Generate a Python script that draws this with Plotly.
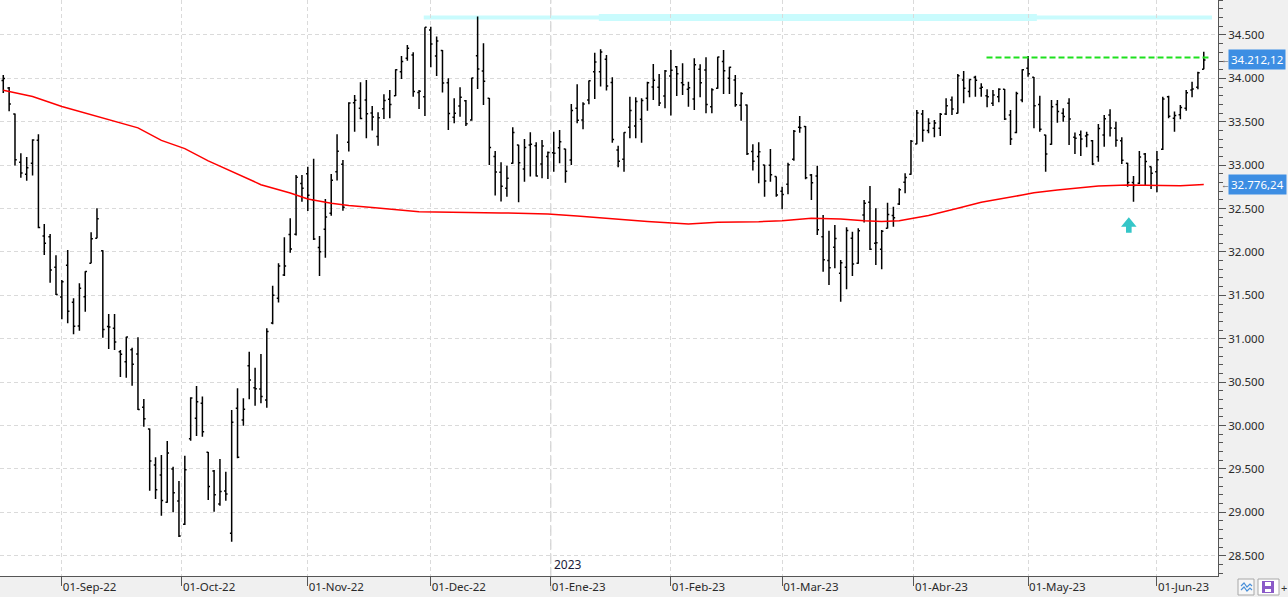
import pandas as pd
import plotly.graph_objects as go

# ---------------- data ----------------
start_date = "2022-08-18"
end_date = "2023-06-13"
holidays = ["2022-09-05", "2022-11-24", "2022-12-26", "2023-01-02",
            "2023-01-16", "2023-02-20", "2023-04-07", "2023-05-29"]

opens = [33975, 33890, 33590, 33033, 32895, 33022, 33287, 32184, 32176, 31823,
         31480, 31846, 31420, 31147, 31485, 31869, 32157, 32015, 31140, 31120,
         30850, 30736, 30874, 30824, 30210, 29960, 29545, 29430, 29115, 29500,
         29130, 28862, 29848, 30083, 30257, 29691, 29476, 29096, 29246, 28758,
         30198, 30064, 30690, 30436, 30421, 30294, 31180, 31466, 31734, 32200,
         32204, 32790, 32900, 32600, 32050, 32261, 32445, 32925, 33010, 33263,
         33720, 33655, 33751, 33600, 33329, 33650, 33759, 33801, 34077, 34231,
         34269, 33836, 33789, 34558, 34258, 34320, 33950, 33551, 33682, 33743,
         33521, 34262, 34085, 33770, 33100, 32918, 32733, 33021, 33232, 32956,
         33232, 33225, 33013, 33100, 33144, 33200, 33186, 33060, 33655, 33521,
         33751, 34077, 34077, 34220, 33951, 33175, 33067, 33436, 33450, 33528,
         33770, 33900, 33897, 33797, 34028, 34135, 33950, 33874, 33763, 34104,
         34097, 33674, 33885, 34193, 34001, 33981, 33690, 33693, 33156, 33100,
         33002, 33000, 32868, 32700, 32779, 33067, 33436, 33444, 32887, 32875,
         32176, 31900, 32053, 31754, 31823, 32157, 31869, 32426, 32572, 32100,
         32030, 32272, 32420, 32553, 32802, 32894, 33244, 33590, 33400, 33425,
         33425, 33590, 33750, 33597, 33981, 33850, 34012, 33885, 33800, 33713,
         33789, 33874, 33578, 33375, 33751, 34116, 34012, 33700, 33348, 33240,
         33700, 33597, 33713, 33321, 33350, 33336, 33282, 33098, 33348, 33578,
         33425, 33280, 33021, 32800, 32791, 33129, 32983, 32925, 33183, 33789,
         33540, 33580, 33655, 33866, 33897, 34104]

highs = [34040, 33900, 33595, 33137, 33094, 33299, 33357, 32322, 32207, 31961,
         31676, 32023, 31466, 31639, 31777, 32226, 32502, 32020, 31285, 31285,
         30870, 31024, 30897, 31016, 30306, 29965, 29634, 29660, 29822, 29526,
         29361, 29652, 30325, 30455, 30333, 29695, 29487, 29614, 29468, 30179,
         30429, 30314, 30851, 30667, 30824, 31120, 31611, 31869, 32168, 32387,
         32887, 32887, 32983, 33074, 32184, 32610, 32898, 33355, 33060, 33724,
         33809, 33955, 33981, 33682, 33609, 33816, 33866, 34104, 34258, 34385,
         34300, 33866, 34590, 34595, 34481, 34327, 34001, 33770, 33897, 33751,
         34008, 34712, 34404, 33775, 33163, 33033, 32994, 33436, 33235, 33302,
         33378, 33263, 33290, 33156, 33386, 33405, 33190, 33705, 33932, 33724,
         33974, 34296, 34335, 34270, 34012, 33225, 33378, 33789, 33782, 33770,
         33960, 34166, 34051, 34097, 34327, 34143, 34173, 33962, 34231, 34162,
         34243, 33885, 34250, 34327, 34135, 34039, 33839, 33698, 33240, 33263,
         33005, 33186, 32870, 32752, 33029, 33405, 33567, 33451, 32898, 32994,
         32426, 32245, 32311, 31907, 32284, 32234, 32272, 32599, 32760, 32503,
         32253, 32568, 32522, 32733, 32906, 33290, 33636, 33636, 33540, 33521,
         33600, 33770, 33790, 34051, 34085, 33989, 34030, 33943, 33874, 33866,
         33885, 33878, 33636, 33847, 34104, 34258, 34015, 33801, 33350, 33751,
         33751, 33655, 33770, 33375, 33398, 33386, 33290, 33475, 33578, 33643,
         33501, 33321, 33029, 32875, 33163, 33140, 32985, 33163, 33789, 33801,
         33617, 33693, 33866, 33962, 34077, 34308]

lows = [33830, 33620, 32995, 32856, 32821, 32880, 32273, 31965, 31646, 31505,
        31224, 31178, 31051, 31093, 31312, 31869, 32157, 31012, 30882, 30870,
        30560, 30551, 30459, 30180, 29987, 29249, 29154, 28961, 29110, 29000,
        28715, 28854, 29825, 29879, 29871, 29142, 29007, 29076, 29134, 28661,
        29622, 29998, 30302, 30229, 30256, 30206, 31166, 31416, 31723, 31991,
        32188, 32579, 32472, 32138, 31723, 31934, 32418, 32822, 32476, 33156,
        33386, 33528, 33309, 33398, 33225, 33532, 33540, 33797, 33993, 34204,
        33789, 33647, 33567, 34127, 34028, 33836, 33405, 33482, 33559, 33451,
        33513, 33878, 33693, 33002, 32649, 32580, 32637, 33015, 32572, 32810,
        32868, 32868, 32848, 32841, 32925, 33021, 32798, 33002, 33482, 33413,
        33701, 33763, 33905, 33859, 33259, 32975, 32925, 33309, 33309, 33259,
        33628, 33751, 33682, 33655, 33571, 33797, 33809, 33674, 33636, 33782,
        33597, 33597, 33880, 33820, 33820, 33674, 33513, 33117, 32937, 32791,
        32637, 32810, 32637, 32491, 32664, 33052, 33374, 32837, 32599, 32195,
        31773, 31619, 31811, 31427, 31569, 31723, 31865, 32338, 32023, 31850,
        31800, 32270, 32291, 32541, 32676, 32890, 33240, 33271, 33367, 33321,
        33336, 33578, 33578, 33595, 33713, 33782, 33789, 33789, 33667, 33682,
        33724, 33520, 33232, 33367, 33724, 34020, 33424, 33386, 32925, 33236,
        33490, 33501, 33232, 33129, 33106, 33206, 33002, 33040, 33213, 33329,
        33213, 33014, 32752, 32579, 32783, 32772, 32726, 32687, 33175, 33540,
        33386, 33528, 33628, 33782, 33874, 34104]

closes = [33999, 33706, 33063, 32909, 32969, 33291, 32283, 32099, 31791, 31510,
          31656, 31318, 31145, 31581, 31775, 32152, 32381, 31105, 31135, 30962,
          30822, 31020, 30706, 30184, 30077, 29590, 29261, 29135, 29684, 29226,
          28726, 29491, 30316, 30274, 29927, 29297, 29203, 29239, 29211, 30039,
          29635, 30186, 30524, 30424, 30334, 31083, 31500, 31837, 31839, 32033,
          32862, 32733, 32653, 32148, 32001, 32403, 32827, 33161, 32514, 33715,
          33748, 33537, 33593, 33554, 33546, 33746, 33700, 34098, 34194, 34347,
          33849, 33853, 34590, 34395, 34430, 33947, 33596, 33598, 33781, 33476,
          34005, 34109, 33966, 33202, 32920, 32758, 32850, 33376, 33027, 33204,
          33242, 32876, 33221, 33147, 33136, 33270, 32930, 33631, 33518, 33704,
          33973, 34190, 34303, 33911, 33297, 33045, 33375, 33630, 33734, 33744,
          33949, 33978, 33717, 34086, 34093, 34054, 33926, 33891, 34157, 33949,
          33700, 33869, 34246, 34089, 34128, 33697, 33827, 33130, 33045, 33154,
          32817, 32889, 32657, 32662, 33004, 33391, 33431, 32856, 32798, 32255,
          31910, 31819, 32155, 31875, 32247, 31862, 32245, 32561, 32030, 32105,
          32238, 32432, 32394, 32718, 32859, 33274, 33601, 33402, 33483, 33485,
          33587, 33685, 33647, 34030, 33886, 33987, 33977, 33897, 33787, 33809,
          33875, 33531, 33302, 33826, 34098, 34052, 33685, 33414, 33128, 33674,
          33619, 33562, 33531, 33310, 33301, 33349, 33012, 33421, 33536, 33427,
          33287, 33056, 32800, 32765, 33093, 33043, 32908, 33062, 33763, 33563,
          33573, 33665, 33834, 33877, 34066, 34212.12]

# 200-session moving average, read at sampled sessions
sma_idx = [0, 5, 10, 16, 23, 27, 31, 35, 40, 44, 49, 52, 56, 59, 63, 68, 71, 85,
           93, 98, 104, 107, 110, 117, 122, 129, 133, 138, 143, 147, 150, 153,
           155, 158, 163, 167, 174, 176, 180, 187, 192, 198, 201, 205]
sma_val = [33862, 33790, 33675, 33565, 33430, 33285, 33190, 33050, 32900, 32775,
           32680, 32610, 32560, 32535, 32512, 32482, 32462, 32450, 32437, 32415,
           32380, 32368, 32350, 32322, 32342, 32349, 32360, 32389, 32380, 32360,
           32352, 32360, 32385, 32420, 32503, 32572, 32656, 32683, 32714, 32760,
           32772, 32764, 32764, 32776.24]

last_price = 34212.12
last_sma = 32776.24
green_level = 34240
cyan_level = 34700

month_ticks = [(2022, 9), (2022, 10), (2022, 11), (2022, 12), (2023, 1),
               (2023, 2), (2023, 3), (2023, 4), (2023, 5), (2023, 6)]
tick_labels = ["01-Sep-22", "01-Oct-22", "01-Nov-22", "01-Dec-22", "01-Ene-23",
               "01-Feb-23", "01-Mar-23", "01-Abr-23", "01-May-23", "01-Jun-23"]
year_label = "2023"

# ---------------- derived ----------------
days = pd.bdate_range(start_date, end_date)
days = days[~days.isin(pd.to_datetime(holidays))]
assert len(days) == len(closes)
xs = list(range(len(days)))

tick_pos = []
for (yy, mm) in month_ticks:
    idx = next(i for i, d in enumerate(days) if d.year == yy and d.month == mm)
    tick_pos.append(idx if days[idx].day == 1 else idx - 0.5)
year_pos = tick_pos[month_ticks.index((2023, 1))]


def fmt_es(v):
    s = f"{v:,.2f}"
    return s.replace(",", "X").replace(".", ",").replace("X", ".")


FONT = "Tahoma, 'Noto Sans', sans-serif"
TXT = "#2a2a2a"
AX = "#555555"

fig = go.Figure()
fig.add_trace(go.Ohlc(
    x=xs, open=opens, high=highs, low=lows, close=closes,
    increasing=dict(line=dict(color="#000000", width=1.5)),
    decreasing=dict(line=dict(color="#000000", width=1.5)),
    tickwidth=0.3, hoverinfo="skip", showlegend=False))
fig.add_trace(go.Scatter(
    x=sma_idx, y=sma_val, mode="lines",
    line=dict(color="#ff0000", width=1.5), hoverinfo="skip", showlegend=False))

x_lo, x_hi = -0.56, 207.43
y_lo, y_hi = 28266, 34903

shapes = []
# year separator
shapes.append(dict(type="line", xref="x", yref="paper", x0=year_pos, x1=year_pos,
                   y0=-0.027, y1=1, line=dict(color="#c4c4c4", width=1, dash="10px,4px"),
                   layer="below"))
# cyan resistance band
shapes.append(dict(type="line", xref="x", yref="y", x0=71.8, x1=206.4,
                   y0=cyan_level, y1=cyan_level,
                   line=dict(color="#c9fbfd", width=4), layer="below"))
shapes.append(dict(type="line", xref="x", yref="y", x0=101.7, x1=176.5,
                   y0=cyan_level, y1=cyan_level,
                   line=dict(color="#c9fbfd", width=7), layer="below"))
# green dashed level
shapes.append(dict(type="line", xref="x", yref="y", x0=167.9, x1=205.8,
                   y0=green_level, y1=green_level,
                   line=dict(color="#1ee01e", width=2, dash="6px,3px")))
# teal up arrow
ax_c, ah, aw = 192.2, 1.33, 0.48
ay_top, ay_mid, ay_bot = 32399, 32291, 32222
arrow_path = (f"M {ax_c},{ay_top} L {ax_c + ah},{ay_mid} L {ax_c + aw},{ay_mid} "
              f"L {ax_c + aw},{ay_bot} L {ax_c - aw},{ay_bot} L {ax_c - aw},{ay_mid} "
              f"L {ax_c - ah},{ay_mid} Z")
shapes.append(dict(type="path", xref="x", yref="y", path=arrow_path,
                   fillcolor="#35c6c8", line=dict(width=0)))


# bottom-right toolbar icons (paper coords from pixels)
def px(x):
    return x / 1218.0


def py(y):
    return (576.0 - y) / 576.0


shapes.append(dict(type="rect", xref="paper", yref="paper", x0=px(1238), x1=px(1254),
                   y0=py(595), y1=py(579), fillcolor="#f7f7f7",
                   line=dict(color="#a8a8a8", width=1)))
shapes.append(dict(type="path", xref="paper", yref="paper",
                   path=f"M {px(1241)},{py(586)} L {px(1244)},{py(583)} L {px(1247)},{py(587)} "
                        f"L {px(1250)},{py(584)} L {px(1252)},{py(586)}",
                   line=dict(color="#4a90d9", width=1.2)))
shapes.append(dict(type="path", xref="paper", yref="paper",
                   path=f"M {px(1241)},{py(590)} L {px(1244)},{py(587)} L {px(1247)},{py(591)} "
                        f"L {px(1250)},{py(588)} L {px(1252)},{py(590)}",
                   line=dict(color="#4a90d9", width=1.2)))
shapes.append(dict(type="rect", xref="paper", yref="paper", x0=px(1258), x1=px(1279),
                   y0=py(595), y1=py(579), fillcolor="#ffffff",
                   line=dict(color="#a8a8a8", width=1)))
shapes.append(dict(type="rect", xref="paper", yref="paper", x0=px(1262), x1=px(1274),
                   y0=py(593), y1=py(581), fillcolor="#8a5ac8", line=dict(width=0)))
shapes.append(dict(type="rect", xref="paper", yref="paper", x0=px(1265), x1=px(1271),
                   y0=py(586), y1=py(582), fillcolor="#ffffff", line=dict(width=0)))
shapes.append(dict(type="rect", xref="paper", yref="paper", x0=px(1265), x1=px(1271),
                   y0=py(592), y1=py(589), fillcolor="#ffffff", line=dict(width=0)))

annotations = [
    dict(x=year_pos, y=0, xref="x", yref="paper", text=year_label, showarrow=False,
         xanchor="left", yanchor="bottom", xshift=1, yshift=1,
         font=dict(family=FONT, size=12, color="#1c1c3a")),
    dict(x=px(1228), y=last_price, xref="paper", yref="y", text=fmt_es(last_price),
         showarrow=False, xanchor="left", yanchor="middle", bgcolor="#3d8ee3",
         borderpad=2, font=dict(family=FONT, size=11.5, color="#ffffff")),
    dict(x=px(1228), y=last_sma, xref="paper", yref="y", text=fmt_es(last_sma),
         showarrow=False, xanchor="left", yanchor="middle", bgcolor="#3d8ee3",
         borderpad=2, font=dict(family=FONT, size=11.5, color="#ffffff")),
    dict(x=px(1219), y=last_price, xref="paper", yref="y", text="←", showarrow=False,
         xanchor="left", yanchor="middle", font=dict(family=FONT, size=9, color="#555")),
    dict(x=px(1219), y=last_sma, xref="paper", yref="y", text="←", showarrow=False,
         xanchor="left", yanchor="middle", font=dict(family=FONT, size=9, color="#555")),
    dict(x=px(1280), y=py(587), xref="paper", yref="paper", text="+", showarrow=False,
         xanchor="left", yanchor="middle", borderpad=0,
         font=dict(family=FONT, size=11, color="#333")),
]

fig.update_layout(
    width=1288, height=597,
    margin=dict(l=0, r=70, t=0, b=21, pad=0),
    paper_bgcolor="#f0f0f0", plot_bgcolor="#ffffff",
    separators=",.",
    showlegend=False,
    shapes=shapes, annotations=annotations,
    font=dict(family=FONT, size=11, color=TXT),
    xaxis=dict(
        range=[x_lo, x_hi], rangeslider=dict(visible=False),
        tickmode="array", tickvals=tick_pos, ticktext=tick_labels,
        ticks="outside", ticklen=9, tickcolor=AX, tickwidth=1,
        ticklabelposition="outside right",
        showline=True, linecolor=AX, linewidth=1,
        showgrid=True, gridcolor="#dadada", griddash="4px,3px", gridwidth=1,
        zeroline=False, tickfont=dict(family=FONT, size=11.5, color=TXT),
    ),
    yaxis=dict(
        side="right", range=[y_lo, y_hi], tick0=0, dtick=500, tickformat=",d",
        ticks="outside", ticklen=7, tickcolor=AX, tickwidth=1,
        showline=True, linecolor=AX, linewidth=1,
        showgrid=True, gridcolor="#dadada", griddash="4px,3px", gridwidth=1,
        zeroline=False, tickfont=dict(family=FONT, size=11.5, color=TXT),
        minor=dict(dtick=100, ticks="outside", ticklen=4, tickcolor=AX, showgrid=False),
    ),
)

fig.write_html("out.html", config={"displayModeBar": False})
